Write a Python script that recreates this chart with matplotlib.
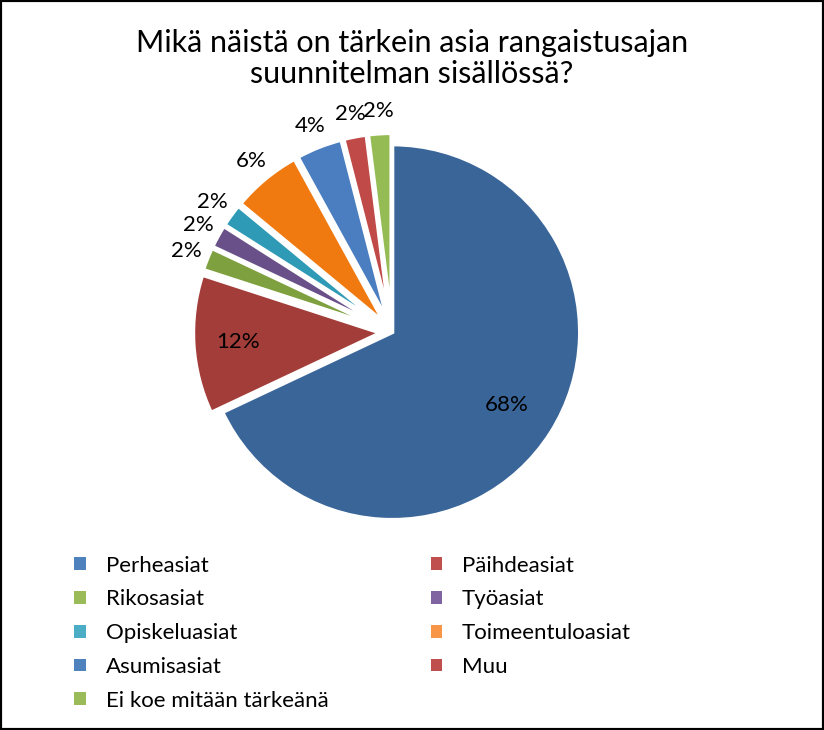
import matplotlib
matplotlib.use("Agg")
import matplotlib.pyplot as plt
from matplotlib.patches import Patch, Rectangle
import numpy as np

labels = ["Perheasiat", "Päihdeasiat", "Rikosasiat", "Työasiat", "Opiskeluasiat",
          "Toimeentuloasiat", "Asumisasiat", "Muu", "Ei koe mitään tärkeänä"]
values = [68, 12, 2, 2, 2, 6, 4, 2, 2]
slice_colors = ["#3A6598", "#A33D3A", "#7FA03F", "#6A5089", "#2E9AB5",
                "#F07A10", "#4A7EC0", "#C04A47", "#95BB55"]
legend_colors = ["#4F81BD", "#C0504D", "#9BBB59", "#8064A2", "#4BACC6",
                 "#F79646", "#4F81BD", "#C0504D", "#9BBB59"]
title = "Mikä näistä on tärkein asia rangaistusajan\nsuunnitelman sisällössä?"

plt.rcParams['font.family'] = ['Lato', 'DejaVu Sans']
fig = plt.figure(figsize=(8.24, 7.3), dpi=100)
fig.patches.append(Rectangle((0, 0), 1, 1, transform=fig.transFigure,
                             fill=False, edgecolor="black", linewidth=3))
ax = fig.add_axes([0.191, 0.223, 0.570, 0.644])
explode = [0.0] + [0.06] * 8
wedges, texts, autotexts = ax.pie(values, colors=slice_colors, startangle=90,
                                  counterclock=False, explode=explode,
                                  autopct="%d%%", pctdistance=1.12,
                                  wedgeprops=dict(edgecolor="white", linewidth=3),
                                  textprops=dict(fontsize=16, color="black"))
for i, t in enumerate(autotexts):
    if values[i] >= 10:
        w = wedges[i]
        ang = np.deg2rad((w.theta1 + w.theta2) / 2)
        r = 0.72 if values[i] > 50 else 0.82
        t.set_position((r * np.cos(ang), r * np.sin(ang)))
ax.set_xlim(-1.25, 1.25); ax.set_ylim(-1.25, 1.25)

fig.text(0.5, 0.92, title, ha="center", va="center", fontsize=22, linespacing=1.15)

order = [0, 2, 4, 6, 8, 1, 3, 5, 7]
handles = [Patch(facecolor=legend_colors[i], label=labels[i]) for i in order]
handles.append(Patch(visible=False))
lab = [labels[i] for i in order] + [""]
fig.legend(handles, lab, ncol=2, loc="upper left", bbox_to_anchor=(0.085, 0.245),
           frameon=False, fontsize=16, handlelength=0.5, handleheight=0.5,
           columnspacing=4.6, labelspacing=0.62, handletextpad=0.9,
           borderaxespad=0, borderpad=0.2)
fig.savefig("out.png", dpi=100)
